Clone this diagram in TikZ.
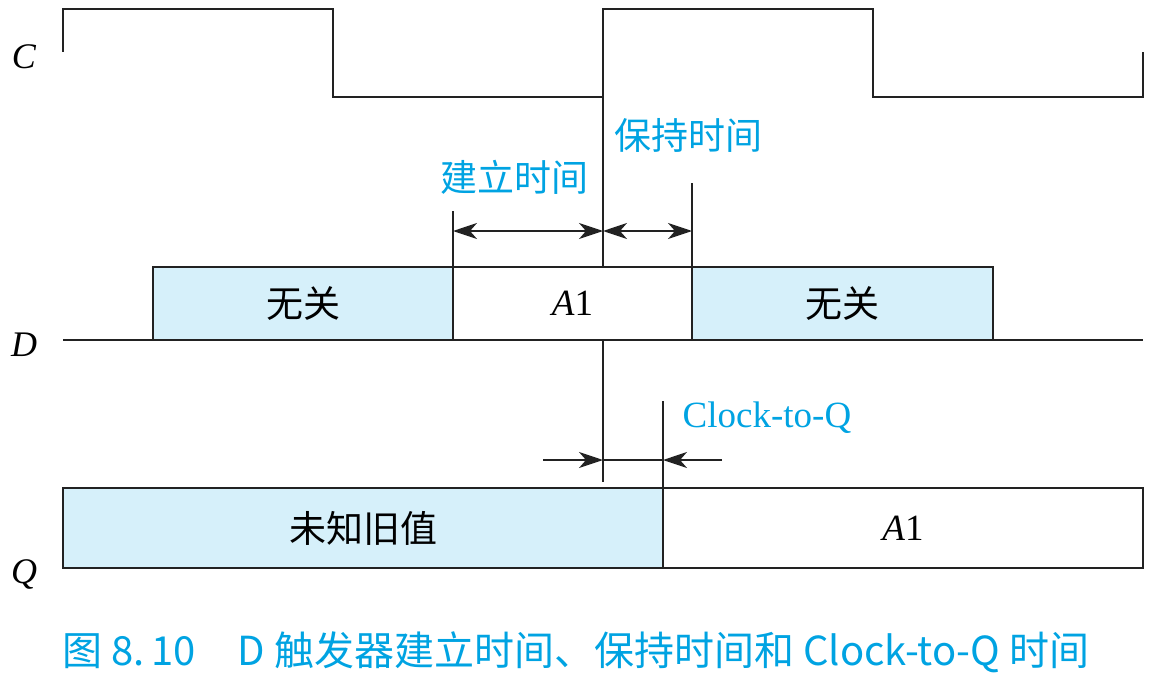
\documentclass[tikz,border=0pt]{standalone}
\usepackage{fontspec}
\setmainfont{Liberation Serif}
\newfontfamily\cjk{Noto Sans CJK SC}
\usetikzlibrary{arrows.meta}
\definecolor{lblue}{HTML}{D6F0FA}
\definecolor{cyantext}{HTML}{00A3E2}
\definecolor{linec}{HTML}{222222}
\tikzset{
  sig/.style={draw=linec, line width=1.8pt},
  bluebox/.style={draw=linec, line width=1.8pt, fill=lblue},
  whitebox/.style={draw=linec, line width=1.8pt, fill=white},
  dim/.style={draw=linec, line width=1.6pt},
  hd/.tip={Stealth[length=24pt,width=16pt,inset=7pt]},
  big/.style={font=\fontsize{37}{40}\selectfont},
  lbl/.style={big, text=cyantext, inner sep=0pt},
  signame/.style={font=\fontsize{36}{40}\selectfont\itshape, inner sep=0pt},
}
\begin{document}
\begin{tikzpicture}[x=1pt,y=-1pt]
\useasboundingbox (0,0) rectangle (1153,685);
% clock
\draw[sig] (63,52) -- (63,9) -- (333,9) -- (333,97) -- (603,97) -- (603,9) -- (873,9) -- (873,97) -- (1143,97) -- (1143,52);
\node[signame] (lc) at (24,57) {C};
\node[signame] (ld) at (24,345) {D};
\node[signame] (lq) at (24,574) {Q};
% D line and boxes
\draw[sig] (63,340) -- (1143,340);
\node[bluebox, minimum width=300pt, minimum height=73pt, anchor=center, big, text=black, outer sep=0pt] (d1) at (303,303.5) {\cjk 无关};
\node[whitebox, minimum width=239pt, minimum height=73pt, anchor=center, big, text=black, outer sep=0pt] (d2) at (572.5,303.5) {\textit{A}1};
\node[bluebox, minimum width=301pt, minimum height=73pt, anchor=center, big, text=black, outer sep=0pt] (d3) at (842.5,303.5) {\cjk 无关};
% Q boxes
\node[bluebox, minimum width=600pt, minimum height=80pt, anchor=center, big, text=black, outer sep=0pt] (q1) at (363,528) {\cjk 未知旧值};
\node[whitebox, minimum width=480pt, minimum height=80pt, anchor=center, big, text=black, outer sep=0pt] (q2) at (903,528) {\textit{A}1};
% extension lines
\coordinate (ck) at (603,97);
\coordinate (su) at (453,211);
\coordinate (ho) at (692,183);
\coordinate (cq) at (663,401);
\coordinate (dlow) at (603,482);
\draw[dim] (ck) -- (ck |- d2.north);
\draw[dim] (su) -- (su |- d1.north);
\draw[dim] (ho) -- (ho |- d2.north);
\draw[dim] (ck |- d2.south) -- (dlow);
\draw[dim] (cq) -- (cq |- q1.north);
% setup/hold arrows
\coordinate (sa) at (453,231);
\coordinate (sb) at (603,231);
\coordinate (sc) at (692,231);
\draw[dim, hd-hd] (sa) -- (sb);
\draw[dim, hd-hd] (sb) -- (sc);
% clock-to-q arrows
\coordinate (al) at (543,460);
\coordinate (am) at (603,460);
\coordinate (an) at (663,460);
\coordinate (ar) at (722,460);
\draw[dim, -hd] (al) -- (am);
\draw[dim] (am) -- (an);
\draw[dim, -hd] (ar) -- (an);
% labels
\node[lbl] (tsu) at (514,177) {\cjk 建立时间};
\node[lbl] (tho) at (688,135) {\cjk 保持时间};
\node[lbl, font=\fontsize{37}{40}\selectfont] (tcq) at (767,418) {Clock-to-Q};
\node[lbl, font=\fontsize{40}{44}\selectfont] (cap) at (576,652) {\cjk 图 8.\,10\hspace{1.05em}D 触发器建立时间、保持时间和 Clock-to-Q 时间};
\end{tikzpicture}
\end{document}
